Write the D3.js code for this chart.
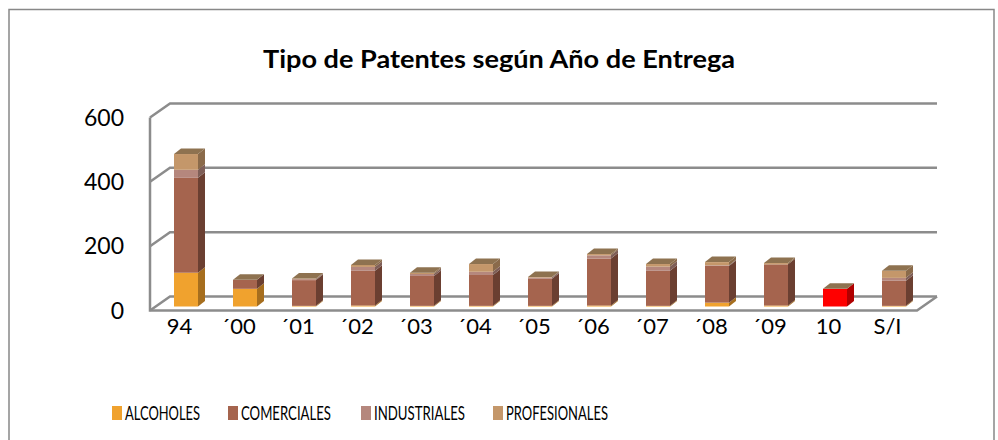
<!DOCTYPE html>
<html>
<head>
<meta charset="utf-8">
<script src="https://cdn.jsdelivr.net/npm/d3@7"></script>
<style>
body { margin: 0; background: #fff; }
svg { font-family: Lato, "Open Sans", sans-serif; }
</style>
</head>
<body>
<div class="container"></div>
<script>
// data
var years = ["94", "´00", "´01", "´02", "´03", "´04", "´05", "´06", "´07", "´08", "´09", "10", "S/I"];
var seriesNames = ["ALCOHOLES", "COMERCIALES", "INDUSTRIALES", "PROFESIONALES"];
var alcoholes = [105, 55, 2, 3, 2, 2, 2, 3, 2, 12, 3, 55, 2];
var comerciales = [295, 28, 80, 108, 93, 96, 84, 146, 109, 114, 128, 0, 78];
var industriales = [25, 0, 3, 12, 6, 10, 4, 10, 13, 2, 0, 0, 9];
var profesionales = [49, 0, 2, 6, 4, 24, 2, 4, 8, 10, 4, 0, 22];
var yTicks = [0, 200, 400, 600];
var highlighted = ["10"]; // bar drawn in red

var colors = ["#F0A22E", "#A5644E", "#B5877D", "#C4976A"];
var sideColors = ["#A66E1E", "#6B3F31", "#7E5E57", "#8A6A4A"];
var topColor = "#8E7250";

var W = 998, H = 440;
var svg = d3.select(".container").append("svg")
  .attr("width", W).attr("height", H);

// frame
svg.append("path")
  .attr("d", "M9,440 V9.5 H994 V440")
  .attr("fill", "none").attr("stroke", "#888").attr("stroke-width", 1.5);

svg.append("text")
  .attr("x", 499).attr("y", 68)
  .attr("text-anchor", "middle")
  .attr("font-size", 24).attr("font-weight", "bold")
  .attr("textLength", 472).attr("lengthAdjust", "spacingAndGlyphs")
  .text("Tipo de Patentes según Año de Entrega");

// 3d geometry
var x0 = 150, x1 = 917, dx = 20, dy = -14;
var y = d3.scaleLinear().domain([0, 600]).range([310.5, 117.5]);
var x = d3.scaleBand().domain(years).range([x0, x1]);
var gridColor = "#8C8C8C";

var grid = svg.append("g").attr("stroke", gridColor).attr("stroke-width", 2.5).attr("fill", "none");
yTicks.forEach(function(t){
  grid.append("path").attr("d",
    "M" + x0 + "," + y(t) + " L" + (x0 + dx) + "," + (y(t) + dy) + " H" + (x1 + dx));
});
grid.append("path").attr("d", "M" + x0 + "," + y(600) + " V" + y(0) + " H" + x1 + " L" + (x1 + dx) + "," + (y(0) + dy));

// y labels
svg.append("g").selectAll("text").data(yTicks).enter().append("text")
  .attr("x", 124).attr("y", function(d){ return y(d); })
  .attr("dy", "0.36em")
  .attr("text-anchor", "end")
  .attr("font-size", 23)
  .text(function(d){ return d; });

// stacked 3d bars
var table = years.map(function(yr, i){
  return {year: yr, ALCOHOLES: alcoholes[i], COMERCIALES: comerciales[i], INDUSTRIALES: industriales[i], PROFESIONALES: profesionales[i]};
});
var stacked = d3.stack().keys(seriesNames)(table);

var barW = 24, shiftX = 6.5, shiftY = -4, bdx = 7, bdy = -5.5;
var bars = svg.append("g");

years.forEach(function(yr, i){
  var fx = x(yr) + x.bandwidth() / 2 - barW / 2 + shiftX;
  var red = highlighted.indexOf(yr) >= 0;
  var g = bars.append("g");
  stacked.forEach(function(layer, k){
    var lo = y(layer[i][0]) + shiftY, hi = y(layer[i][1]) + shiftY;
    if (hi >= lo) return;
    var c = red ? "#FF0000" : colors[k];
    var sc = red ? "#B00000" : sideColors[k];
    g.append("rect").attr("x", fx).attr("y", hi).attr("width", barW).attr("height", lo - hi).attr("fill", c);
    g.append("path").attr("d",
      "M" + (fx + barW) + "," + lo + " V" + hi + " l" + bdx + "," + bdy + " V" + (lo + bdy) + " Z")
      .attr("fill", sc);
  });
  var top = y(stacked[3][i][1]) + shiftY;
  g.append("path").attr("d",
    "M" + fx + "," + top + " h" + barW + " l" + bdx + "," + bdy + " h" + (-barW) + " Z")
    .attr("fill", topColor);
});

// x labels
svg.append("g").selectAll("text").data(years).enter().append("text")
  .attr("x", function(d){ return x(d) + x.bandwidth() / 2; })
  .attr("y", 326)
  .attr("dy", "0.36em")
  .attr("text-anchor", "middle")
  .attr("font-size", 22)
  .text(function(d){ return d; });

// legend
var legX = [112, 228, 361, 493];
var legW = [75, 90, 91, 102];
var leg = svg.append("g").selectAll("g").data(seriesNames).enter().append("g")
  .attr("transform", function(d, i){ return "translate(" + legX[i] + ",406)"; });
leg.append("rect").attr("width", 10).attr("height", 14)
  .attr("fill", function(d, i){ return colors[i]; });
leg.append("text").attr("x", 13).attr("y", 7).attr("dy", "0.36em")
  .attr("font-size", 19)
  .attr("textLength", function(d, i){ return legW[i]; })
  .attr("lengthAdjust", "spacingAndGlyphs")
  .text(function(d){ return d; });
</script>
</body>
</html>
